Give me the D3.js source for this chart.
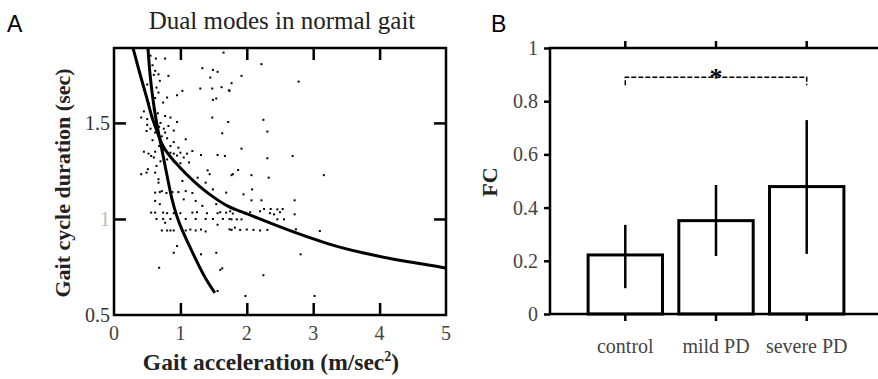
<!DOCTYPE html>
<html>
<head>
<meta charset="utf-8">
<script src="https://cdn.jsdelivr.net/npm/d3@7"></script>
<style>
  body { margin: 0; background: #fff; }
  svg { display: block; }
  svg text { font-family: "Liberation Serif", "DejaVu Serif", serif; }
  svg text.sans { font-family: "Liberation Sans", Arial, sans-serif; }
</style>
</head>
<body>
<svg id="svg" width="878" height="379"></svg>
<script>
// ---- panel A data ----
var hyperCurve = [[0.286,1.891],[0.406,1.734],[0.496,1.630],[0.571,1.526],[0.647,1.458],[0.737,1.370],
  [0.887,1.307],[1.098,1.229],[1.293,1.167],[1.489,1.115],[1.714,1.063],[1.940,1.036],[2.195,1.0],
  [2.571,0.948],[3.248,0.865],[3.744,0.823],[4.256,0.786],[4.752,0.760],[4.992,0.745]];
var steepCurve = [[0.511,1.891],[0.541,1.750],[0.586,1.620],[0.632,1.516],[0.692,1.411],[0.752,1.307],
  [0.812,1.203],[0.872,1.099],[0.947,1.010],[1.023,0.943],[1.143,0.854],[1.293,0.745],[1.398,0.677],[1.519,0.615]];
var gaitPoints = [
  [2.22,1.806],[1.92,1.745],[1.77,1.707],[1.74,1.667],[2.78,1.715],[1.72,1.505],[2.25,1.516],[2.31,1.455],
  [1.92,1.366],[2.31,1.316],[2.69,1.328],[1.87,1.255],[1.77,1.228],[2.07,1.228],[2.33,1.215],[3.16,1.228],
  [1.65,1.866],[0.77,1.835],[0.63,1.835],[1.33,1.785],[1.49,1.776],[1.56,1.766],[1.45,1.736],[0.82,1.745],
  [1.30,1.679],[1.48,1.679],[1.62,1.686],[1.73,1.670],[1.03,1.667],[0.95,1.644],[1.49,1.620],[1.54,1.627],
  [1.48,1.528],[1.63,1.446],
  [0.62,1.771],[0.67,1.753],[0.69,1.719],[0.64,1.684],[0.67,1.658],[0.80,1.632],[0.74,1.606],[0.77,1.536],
  [0.85,1.528],[0.41,1.528],[0.95,1.505],[0.82,1.484],[0.49,1.458],[0.77,1.450],
  [0.55,1.85],[0.58,1.80],[0.60,1.75],[0.50,1.70],[0.57,1.68],[0.62,1.63],[0.53,1.60],[0.60,1.57],
  [0.66,1.55],[0.45,1.56],[0.50,1.52],[0.70,1.50],[0.55,1.47],[0.62,1.45],[0.72,1.43],[0.58,1.41],
  [0.80,1.42],[0.90,1.40],[0.68,1.38],[0.75,1.36],[0.85,1.38],[0.95,1.33],[1.05,1.32],[0.60,1.32],
  [0.70,1.30],[0.80,1.31],[0.90,1.30],[1.00,1.29],
  [0.45,1.35],[0.52,1.34],[0.62,1.35],[0.85,1.345],[0.90,1.34],[1.00,1.345],[1.10,1.34],
  [0.50,1.49],[0.68,1.48],[0.75,1.47],[0.90,1.46],
  [1.08,1.415],[0.97,1.371],[1.18,1.354],[1.31,1.333],[1.56,1.333],[1.67,1.328],[0.56,1.328],[1.13,1.294],
  [0.64,1.276],[0.51,1.259],[0.41,1.233],[0.49,1.241],[0.62,1.241],[0.67,1.207],[1.44,1.233],[1.41,1.253],
  [1.79,1.233],[1.26,1.215],[1.38,1.189],[1.03,1.198],[0.67,1.189],
  [0.62,1.137],[0.69,1.14],[0.79,1.135],[0.97,1.14],[1.08,1.145],[1.18,1.135],[1.49,1.154],[1.69,1.137],
  [0.72,1.145],[0.88,1.14],
  [0.62,1.094],[0.69,1.077],[1.05,1.102],[1.23,1.094],[1.33,1.068],[1.54,1.077],[1.18,1.033],[0.56,1.033],
  [0.90,1.03],[1.00,1.03],[1.25,1.035],[1.40,1.03],[1.60,1.035],[1.75,1.04],[1.90,1.04],[2.05,1.035],
  [2.20,1.04],[2.35,1.03],[2.50,1.035],[0.62,1.033],[0.74,1.033],[0.80,1.03],
  [0.64,1.0],[0.74,1.0],[0.85,1.0],[1.08,1.0],[1.23,1.0],[1.38,1.0],[1.49,1.0],[1.64,1.0],[1.74,1.0],
  [1.56,1.03],[1.69,1.033],[1.79,1.028],
  [0.77,0.98],[0.72,0.94],[0.80,0.94],[0.85,0.94],[0.90,0.94],[1.08,0.94],[1.15,0.945],[1.23,0.94],
  [1.31,0.945],[1.38,0.935],[1.56,0.97],[1.74,0.946],[1.82,0.955],
  [0.95,0.859],[0.90,0.824],[1.31,0.816],[1.54,0.824],[0.68,0.746],[1.63,0.743],[1.60,0.735],[1.56,0.625],
  [1.95,1.128],[2.08,1.154],[2.07,1.097],[2.22,1.097],[2.72,1.097],[2.72,1.024],[2.26,1.052],[2.36,1.052],
  [2.46,1.05],[2.54,1.052],[2.46,0.998],[2.56,0.998],[2.41,1.024],[1.77,0.998],[1.85,0.998],[1.92,0.998],
  [1.77,0.943],[1.90,0.943],[2.00,0.945],[2.10,0.943],[2.20,0.94],[2.31,0.943],[2.74,0.946],[3.10,0.9375],
  [2.81,0.816],[2.25,0.707],[1.98,0.599],[3.02,0.599]
];
var xTicksA = [0, 1, 2, 3, 4, 5];
var yTicksA = [0.5, 1, 1.5];

// ---- panel B data ----
var groups = ["control", "mild PD", "severe PD"];
var fcMean = [0.222, 0.351, 0.479];
var fcLow = [0.097, 0.218, 0.226];
var fcHigh = [0.335, 0.485, 0.729];
var yTicksB = [0, 0.2, 0.4, 0.6, 0.8, 1];
var sigBar = { from: "control", to: "severe PD", level: 0.89, drop: 0.86 };

var svg = d3.select('#svg');
svg.append('rect').attr('width', 878).attr('height', 379).attr('fill', '#fff');

drawPanelA();
drawPanelB();

function drawPanelA() {
  var x = d3.scaleLinear().domain([0, 5]).range([114, 446]);
  var y = d3.scaleLinear().domain([0.5, 1.89]).range([315, 48]);
  var g = svg.append('g');

  // scatter dots
  g.selectAll('rect.dot')
    .data(gaitPoints)
    .enter().append('rect')
    .attr('class', 'dot')
    .attr('x', d => x(d[0]) - 1)
    .attr('y', d => y(d[1]) - 1)
    .attr('width', 2).attr('height', 2)
    .attr('fill', '#000');

  var line = d3.line().x(d => x(d[0])).y(d => y(d[1])).curve(d3.curveBasis);
  [hyperCurve, steepCurve].forEach(function(c) {
    g.append('path').attr('d', line(c))
      .attr('fill', 'none').attr('stroke', '#000').attr('stroke-width', 3);
  });

  // inward ticks on all four sides
  var tickX = [1, 2, 3, 4];
  g.append('g').attr('transform', 'translate(0,315)')
    .call(d3.axisBottom(x).tickValues(tickX).tickSize(-12).tickFormat(''));
  g.append('g').attr('transform', 'translate(0,48)')
    .call(d3.axisTop(x).tickValues(tickX).tickSize(-12).tickFormat(''));
  g.append('g').attr('transform', 'translate(114,0)')
    .call(d3.axisLeft(y).tickValues([1, 1.5]).tickSize(-12).tickFormat(''));
  g.append('g').attr('transform', 'translate(446,0)')
    .call(d3.axisRight(y).tickValues([1, 1.5]).tickSize(-12).tickFormat(''));
  g.selectAll('.domain').remove();
  g.selectAll('.tick line').attr('stroke', '#000').attr('stroke-width', 2.5);

  g.append('rect').attr('x', 114).attr('y', 48).attr('width', 332).attr('height', 267)
    .attr('fill', 'none').attr('stroke', '#000').attr('stroke-width', 2.5);

  // tick labels
  g.selectAll('text.xl').data(xTicksA).enter().append('text')
    .attr('x', d => x(d)).attr('y', 340)
    .attr('text-anchor', 'middle').attr('font-size', 20).attr('fill', '#444')
    .text(d => d);
  g.selectAll('text.yl').data(yTicksA).enter().append('text')
    .attr('x', 110).attr('y', d => y(d) + 7)
    .attr('text-anchor', 'end').attr('font-size', 20)
    .attr('fill', d => d === 1 ? '#bbb' : '#333')
    .text(d => d);

  svg.append('text').attr('x', 282).attr('y', 29).attr('text-anchor', 'middle')
    .attr('font-size', 25).attr('fill', '#222').text('Dual modes in normal gait');
  svg.append('text').attr('class', 'sans').attr('x', 7).attr('y', 32)
    .attr('font-size', 23).attr('fill', '#000').text('A');

  var xl = svg.append('text').attr('x', 271).attr('y', 370).attr('text-anchor', 'middle')
    .attr('font-size', 23.5).attr('font-weight', 'bold').attr('fill', '#222');
  xl.append('tspan').text('Gait acceleration (m/sec');
  xl.append('tspan').attr('dy', -9).attr('font-size', 14).text('2');
  xl.append('tspan').attr('dy', 9).text(')');

  svg.append('text').attr('transform', 'translate(70,183) rotate(-90)')
    .attr('text-anchor', 'middle').attr('font-size', 22).attr('font-weight', 'bold')
    .attr('fill', '#222').text('Gait cycle duration (sec)');
}

function drawPanelB() {
  var x = d3.scaleBand().domain(groups).range([550, 882]).paddingInner(0.18).paddingOuter(0.42);
  var y = d3.scaleLinear().domain([0, 1]).range([314, 48]);
  var g = svg.append('g');
  var rows = groups.map((k, i) => ({ k: k, m: fcMean[i], lo: fcLow[i], hi: fcHigh[i] }));

  g.selectAll('rect.bar').data(rows).enter().append('rect')
    .attr('x', d => x(d.k)).attr('y', d => y(d.m))
    .attr('width', x.bandwidth()).attr('height', d => y(0) - y(d.m))
    .attr('fill', '#fff').attr('stroke', '#000').attr('stroke-width', 3);

  g.selectAll('line.err').data(rows).enter().append('line')
    .attr('x1', d => x(d.k) + x.bandwidth() / 2).attr('x2', d => x(d.k) + x.bandwidth() / 2)
    .attr('y1', d => y(d.lo)).attr('y2', d => y(d.hi))
    .attr('stroke', '#000').attr('stroke-width', 2.5);

  // axes with outward ticks
  var cx = d3.scaleOrdinal().domain(groups).range(groups.map(k => x(k) + x.bandwidth() / 2));
  g.append('g').attr('transform', 'translate(0,314)')
    .call(d3.axisBottom(x).tickSize(7).tickPadding(18));
  g.append('g').attr('transform', 'translate(0,48)')
    .call(d3.axisTop(x).tickSize(7).tickFormat(''));
  g.append('g').attr('transform', 'translate(550,0)')
    .call(d3.axisLeft(y).tickValues(yTicksB).tickSize(6).tickPadding(6)
      .tickFormat(d => d === 0 ? '0' : d === 1 ? '1' : d3.format('.1f')(d)));
  g.selectAll('.domain').remove();
  g.selectAll('.tick line').attr('stroke', '#000').attr('stroke-width', 2.5);
  g.selectAll('.tick text')
    .style('font-family', '"Liberation Serif", serif')
    .attr('font-size', 20).attr('fill', '#444');

  g.append('rect').attr('x', 550).attr('y', 48).attr('width', 340).attr('height', 266)
    .attr('fill', 'none').attr('stroke', '#000').attr('stroke-width', 2.5);

  // significance bracket
  var x1 = cx(sigBar.from), x2 = cx(sigBar.to);
  g.append('path')
    .attr('d', 'M' + x1 + ',' + y(sigBar.drop) + 'V' + y(sigBar.level) + 'H' + x2 + 'V' + y(sigBar.drop))
    .attr('fill', 'none').attr('stroke', '#000').attr('stroke-width', 1.5)
    .attr('stroke-dasharray', '5,2');
  g.append('text').attr('x', (x1 + x2) / 2).attr('y', y(sigBar.level) + 9)
    .attr('text-anchor', 'middle').attr('font-size', 26).attr('font-weight', 'bold')
    .attr('fill', '#000').text('*');

  svg.append('text').attr('class', 'sans').attr('x', 491).attr('y', 32)
    .attr('font-size', 23).attr('fill', '#000').text('B');
  svg.append('text').attr('transform', 'translate(497,182) rotate(-90)')
    .attr('text-anchor', 'middle').attr('font-size', 22).attr('font-weight', 'bold')
    .attr('fill', '#222').text('FC');
}
</script>
</body>
</html>
